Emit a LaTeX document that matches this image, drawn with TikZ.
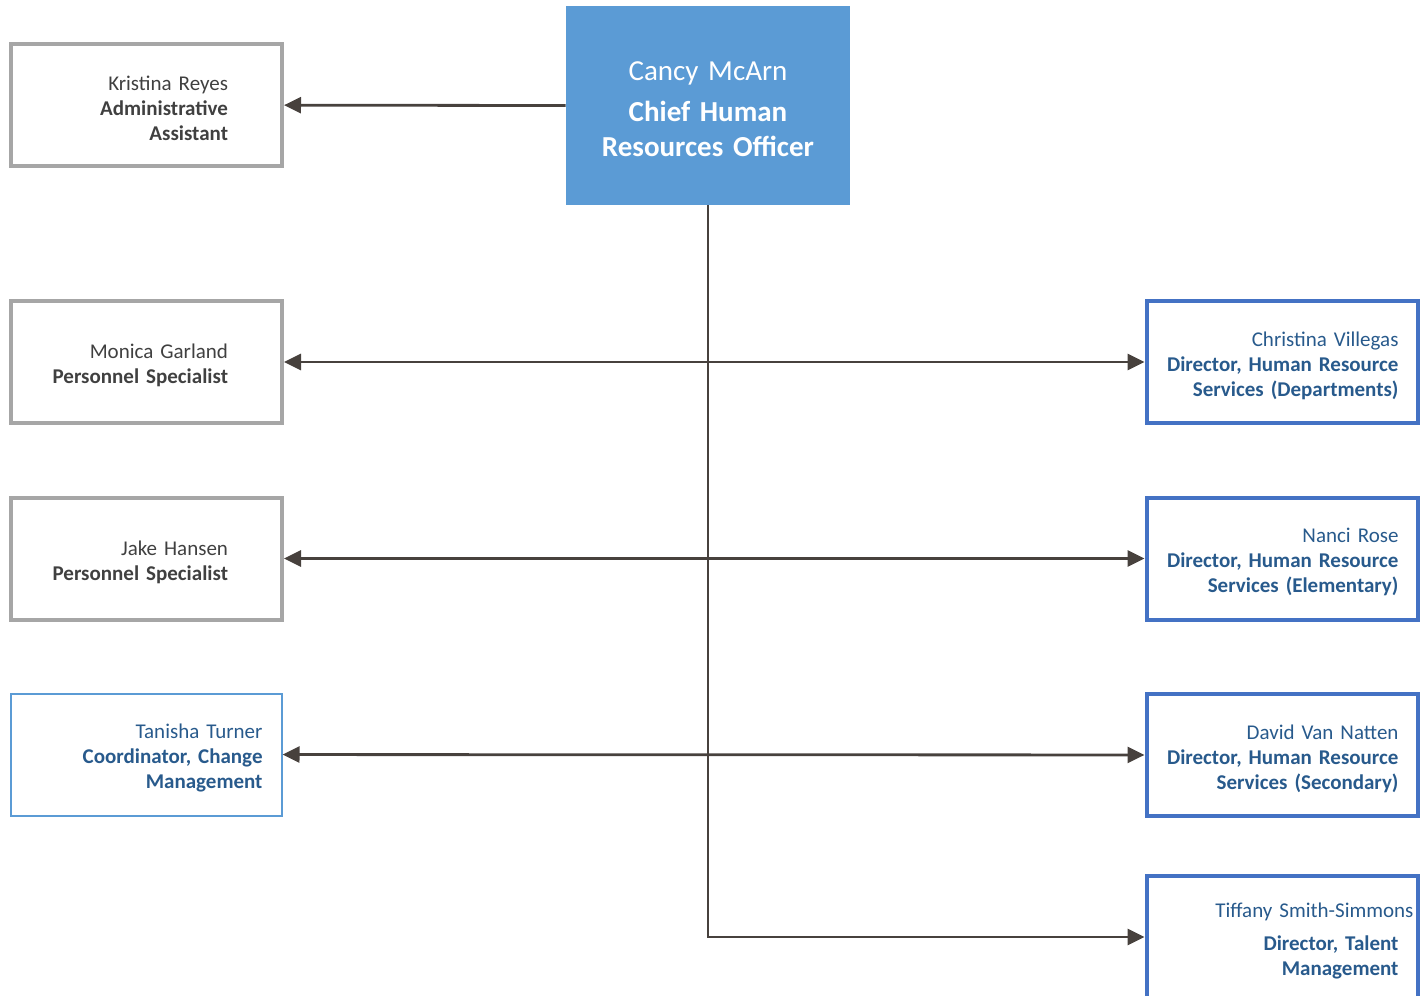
\documentclass[tikz,border=0pt]{standalone}
\usepackage{fontspec}
\setmainfont{Carlito}
\usetikzlibrary{arrows.meta}
\definecolor{headblue}{HTML}{5B9BD5}
\definecolor{framegray}{HTML}{A6A6A6}
\definecolor{frameblue}{HTML}{4472C4}
\definecolor{textgray}{HTML}{404040}
\definecolor{textblue}{HTML}{285A8C}
\definecolor{linkcol}{HTML}{47413D}
\tikzset{
  card/.style={rectangle, inner sep=0pt, minimum width=135.5pt, minimum height=61pt,
    text width=135.5pt, text height=11pt, align=right, font=\fontsize{10.5}{12.5}\selectfont,
    execute at begin node={\rightskip=#1}},
  graycard/.style={card=27pt, draw=framegray, line width=2pt, text=textgray},
  bluecard/.style={card=9.5pt, draw=frameblue, line width=2pt, text=textblue},
  thincard/.style={card=9.5pt, draw=headblue, line width=1pt, text=textblue},
  head/.style={rectangle, fill=headblue, text=white, inner sep=0pt, minimum width=142pt,
    minimum height=99.5pt, text width=142pt, text height=12.8pt, align=center,
    font=\fontsize{14.5}{17.5}\selectfont},
  link/.style={draw=linkcol, line width=1.4pt, >={Triangle[length=8.5pt,width=8pt]}}
}
\begin{document}
\begin{tikzpicture}[x=0.5pt,y=-0.5pt]
  \useasboundingbox (0,0) rectangle (1420,996);
  \node[head] (ceo) at (708,105.5) {Cancy McArn\\[3pt]\textbf{Chief Human}\\\textbf{Resources Officer}};
  % left column
  \node[graycard] (kreyes) at (146.5,105) {Kristina Reyes\\\textbf{Administrative}\\\textbf{Assistant}};
  \node[graycard] (mgarland) at (146.5,362) {Monica Garland\\\textbf{Personnel Specialist}};
  \node[graycard] (jhansen) at (146.5,558.5) {Jake Hansen\\\textbf{Personnel Specialist}};
  \node[thincard] (tturner) at (146,754.5) {Tanisha Turner\\\textbf{Coordinator, Change}\\\textbf{Management}};
  % right column
  \node[bluecard] (cvillegas) at (1282,362) {Christina Villegas\\\textbf{Director, Human Resource}\\\textbf{Services (Departments)}};
  \node[bluecard] (nrose) at (1282,558.5) {Nanci Rose\\\textbf{Director, Human Resource}\\\textbf{Services (Elementary)}};
  \node[bluecard] (dvannatten) at (1282,755) {David Van Natten\\\textbf{Director, Human Resource}\\\textbf{Services (Secondary)}};
  \node[bluecard] (tsimmons) at (1282,937) {Tiffany Smith-Simmons\kern-7.5pt\\[4pt]\textbf{Director, Talent}\\\textbf{Management}};
  % connectors
  \draw[link,->] (ceo.west) -- (kreyes);
  \draw[link,->] (ceo.south) |- (tsimmons);
  \foreach \a/\b in {mgarland/cvillegas,jhansen/nrose,tturner/dvannatten} {\draw[link,<->] (\a) -- (\b);}
\end{tikzpicture}
\end{document}
